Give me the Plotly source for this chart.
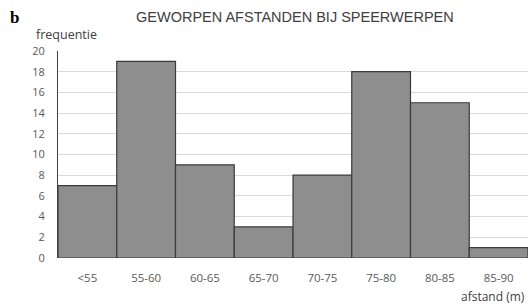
import plotly.graph_objects as go

categories = ["<55", "55-60", "60-65", "65-70", "70-75", "75-80", "80-85", "85-90"]
frequencies = [7, 19, 9, 3, 8, 18, 15, 1]
y_ticks = list(range(0, 21, 2))

fig = go.Figure(go.Bar(
    x=categories, y=frequencies,
    marker=dict(color="#8e8e8e", line=dict(color="#3a3a3a", width=1.2)),
    width=1.0,
    hoverinfo="skip",
))

fig.update_layout(
    width=528, height=308,
    margin=dict(l=58, r=0, t=51, b=50),
    plot_bgcolor="white", paper_bgcolor="white",
    bargap=0,
    showlegend=False,
    font=dict(family="Open Sans", color="#595959", size=11),
)
fig.update_xaxes(
    type="category", range=[-0.5, 7.5],
    showline=False, showgrid=False, ticks="",
    tickfont=dict(size=11.5, color="#595959"),
    ticklabelstandoff=11,
)
fig.update_yaxes(
    range=[0, 20], tickvals=y_ticks,
    showgrid=True, gridcolor="#d9d9d9", gridwidth=1,
    showline=True, linecolor="#404040", linewidth=1,
    zeroline=False, ticks="",
    tickfont=dict(size=11, color="#595959"),
    ticklabelstandoff=10,
)
fig.add_annotation(text="<b>b</b>", xref="paper", yref="paper", x=-0.0915, y=1.162,
                   xanchor="center", yanchor="middle", showarrow=False,
                   font=dict(family="Liberation Serif", size=17, color="#000000"))
fig.add_annotation(text="GEWORPEN AFSTANDEN BIJ SPEERWERPEN", xref="paper", yref="paper",
                   x=0.504, y=1.162, xanchor="center", yanchor="middle", showarrow=False,
                   font=dict(family="Liberation Sans", size=14.5, color="#404040"))
fig.add_annotation(text="frequentie", xref="paper", yref="paper", x=0.019, y=1.082,
                   xanchor="center", yanchor="middle", showarrow=False,
                   font=dict(family="Open Sans", size=12.5, color="#404040"))
fig.add_annotation(text="afstand (m)", xref="paper", yref="paper", x=0.998, y=-0.188,
                   xanchor="right", yanchor="middle", showarrow=False,
                   font=dict(family="Open Sans", size=12, color="#404040"))

fig.write_html(
    "out.html",
    config={"displayModeBar": False, "staticPlot": True},
    post_script="document.body.style.margin='0';document.body.style.overflow='hidden';",
)
